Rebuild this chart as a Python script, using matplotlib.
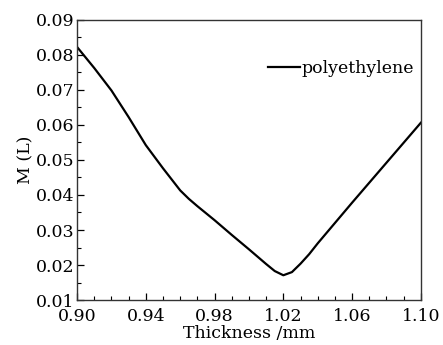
import matplotlib.pyplot as plt
import numpy as np

# 厚度 (mm) 与 M(L) 数据
thickness = [0.90, 0.91, 0.92, 0.93, 0.94, 0.95, 0.96, 0.965, 0.97, 0.98,
             0.99, 1.00, 1.01, 1.015, 1.02, 1.025, 1.03, 1.035, 1.04, 1.05,
             1.06, 1.07, 1.08, 1.09, 1.10]
m_value = [0.0822, 0.0762, 0.0698, 0.0622, 0.0542, 0.0476, 0.0413, 0.0389,
           0.0368, 0.0328, 0.0286, 0.0245, 0.0203, 0.0183, 0.0171, 0.0180,
           0.0204, 0.0231, 0.0262, 0.0320, 0.0378, 0.0435, 0.0492, 0.0549,
           0.0606]

plt.rcParams['font.family'] = ['DejaVu Serif']
plt.rcParams['font.size'] = 12.5
plt.rcParams['mathtext.fontset'] = 'dejavuserif'

fig = plt.figure(figsize=(4.43, 3.45), dpi=100)
ax = fig.add_axes([0.174, 0.130, 0.776, 0.813])

ax.plot(thickness, m_value, color='black', linewidth=1.6, label='polyethylene',
        solid_joinstyle='round')

ax.set_xlim(0.90, 1.10)
ax.set_ylim(0.01, 0.09)
ax.set_xticks(np.arange(0.90, 1.101, 0.04))
ax.set_xticks(np.arange(0.90, 1.101, 0.01), minor=True)
ax.set_yticks(np.arange(0.01, 0.0901, 0.01))
ax.set_yticks(np.arange(0.01, 0.0901, 0.005), minor=True)
ax.set_xticklabels(['0.90', '0.94', '0.98', '1.02', '1.06', '1.10'])
ax.set_yticklabels([f'{v:.2f}' for v in np.arange(0.01, 0.0901, 0.01)])

ax.tick_params(which='both', direction='in', top=False, right=False)
ax.tick_params(which='major', length=5, width=0.9)
ax.tick_params(axis='x', which='major', pad=6)
ax.tick_params(axis='y', which='major', pad=2)
ax.tick_params(which='minor', length=3, width=0.8)
for s in ax.spines.values():
    s.set_color('#333333')
    s.set_linewidth(1.0)

ax.set_xlabel('Thickness /mm', labelpad=0)
ax.set_ylabel('M (L)', labelpad=1)

ax.legend(loc='upper right', bbox_to_anchor=(1.0, 0.88), frameon=False,
          handlelength=1.8, handletextpad=0.1, borderaxespad=0.0)

fig.savefig('out.png', dpi=100)
